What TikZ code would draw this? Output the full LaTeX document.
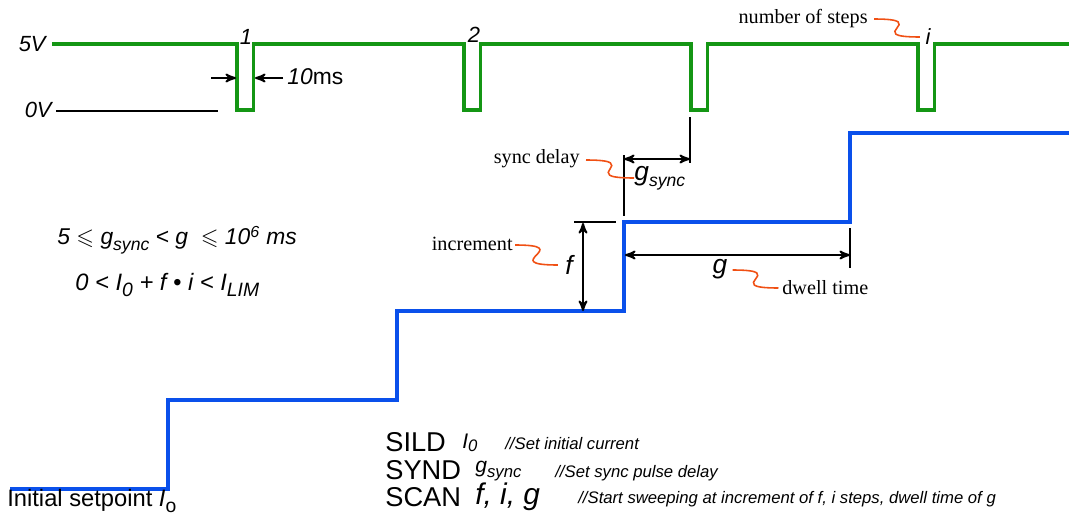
\documentclass[tikz,border=0pt]{standalone}
\usepackage{amssymb}
\usepackage{fontspec}
\setmainfont{Liberation Sans}
\newfontfamily\notefont{Liberation Serif}
\usetikzlibrary{arrows}

\definecolor{syncgreen}{RGB}{20,150,20}
\definecolor{stepblue}{RGB}{10,80,235}
\definecolor{noteorange}{RGB}{240,80,20}

\newcommand{\fs}[1]{\fontsize{#1}{#1}\selectfont}
\newcommand{\lowsub}[2][9]{\raisebox{-0.45ex}{\fs{#1}#2}}

\tikzset{
  pulse/.style={syncgreen, line width=1.9pt},
  stair/.style={stepblue, line width=1.9pt},
  dim/.style={black, line width=1.1pt, >=stealth'},
  squig/.style={noteorange, line width=0.9pt},
  note/.style={font=\notefont\fs{11.5}, inner sep=0pt},
  lbl/.style={font=\itshape\fs{12.5}, inner sep=0pt},
  cmd/.style={font=\fs{15.5}, inner sep=0pt, anchor=west},
  remark/.style={font=\itshape\fs{9.5}, inner sep=0pt, anchor=west},
}

\begin{document}
\begin{tikzpicture}[x=0.02cm,y=-0.02cm]
\useasboundingbox (0,0) rectangle (1069,514);

% sync output and current staircase
\draw[pulse] (52,44) \foreach \x in {237,464,691,918}{ -- (\x,44) -- (\x,110) -- (\x+16.5,110) -- (\x+16.5,44)} -- (1069,44);
\draw[stair] (10,489) -- (168,489) -- (168,400) -- (397,400) -- (397,311) -- (624,311)
  -- (624,222) -- (850,222) -- (850,133) -- (1069,133);

\node[lbl, anchor=east] (five) at (46,44) {5V};
\node[lbl, anchor=east] (zero) at (52,110) {0V};
\draw[line width=1.1pt] (zero.east) ++(4,1) coordinate (zl) -- ++(162,0) coordinate (zr);

\node[lbl] (n1) at (246,37) {1};
\node[lbl] (n2) at (474,35) {2};
\node[lbl] (ni) at (928,37) {i};

% pulse width
\node[lbl, anchor=west, font=\fs{13}] (width) at (287,77) {\textit{10}ms};
\coordinate (wa) at (211,78);
\coordinate (wb) at (236,78);
\coordinate (wc) at (255,78);
\draw[dim,->] (wa) -- (wb);
\draw[dim,->] (width.west) ++(-4,1) -- (wc);

% sync delay
\coordinate (sa) at (624,155);
\coordinate (sb) at (624,216);
\coordinate (sc) at (690,117);
\coordinate (sd) at (690,163);
\draw[dim] (sa) -- (sb);
\draw[dim] (sc) -- (sd);
\draw[dim,<->] (sa |- 0,159) -- (sc |- 0,159);
\node[lbl, anchor=west] (gsync) at (634,178) {\fs{15}g\lowsub[10]{sync}};
\node[note, anchor=east] (syncdelay) at (580,159) {sync delay};

% increment
\coordinate (fa) at (574,222);
\coordinate (fb) at (616,222);
\coordinate (fc) at (583,223);
\coordinate (fd) at (583,311);
\draw[dim] (fa) -- (fb);
\draw[dim,<->] (fc) -- (fd);
\node[lbl, font=\itshape\fs{15}] (f) at (569,265) {f};
\node[note, anchor=east] (increment) at (513,244) {increment};

% dwell time
\coordinate (ga) at (850,228);
\coordinate (gb) at (850,268);
\draw[dim] (ga) -- (gb);
\draw[dim,<->] (625,255) -- (ga |- 0,255);
\node[lbl, font=\itshape\fs{15}] (g) at (720,269) {g};
\node[note, anchor=west] (dwell) at (782,288) {dwell time};

\node[note, anchor=east] (steps) at (868,19) {number of steps};

% orange callouts
\draw[squig] (syncdelay.east) ++(6,1) .. controls +(60,0) and +(-60,0) .. (gsync.west);
\draw[squig] (increment.east) ++(2,1) .. controls +(62,0) and +(-62,0) .. ([xshift=-4pt]f.west);
\draw[squig] (g.east) ++(5,1) .. controls +(60,0) and +(-60,0) .. ([xshift=-2pt]dwell.west);
\draw[squig] (steps.east) ++(6,0) .. controls +(60,0) and +(-60,0) .. ([xshift=-3pt]ni.west);

% limits
\node[lbl, anchor=west, font=\itshape\fs{13}] (cond1) at (57,240)
  {5 $\leqslant$ g\lowsub[10]{sync} < g\ \ $\leqslant$ 10\textsuperscript{6} ms};
\node[lbl, anchor=west, font=\itshape\fs{13.5}] (cond2) at (75,285)
  {0 < I\lowsub[11]{0} + f \textbullet\ i < I\lowsub[11]{LIM}};

% commands
\node[cmd] (sild) at (385,442) {SILD};
\node[cmd, font=\itshape\fs{12}] (sildarg) at (462,443) {I\raisebox{-0.3ex}{\fs{9.5}0}};
\node[remark] (sildnote) at (505,444) {//Set initial current};
\node[cmd] (synd) at (385,470) {SYND};
\node[cmd, font=\itshape\fs{12}] (syndarg) at (475,471) {g\lowsub[9.5]{sync}};
\node[remark] (syndnote) at (555,473) {//Set sync pulse delay};
\node[cmd] (scan) at (385,497) {SCAN};
\node[cmd, font=\itshape\fs{17}] (scanarg) at (475,497) {f, i, g};
\node[remark] (scannote) at (578,499) {//Start sweeping at increment of f, i steps, dwell time of g};

\node[anchor=west, inner sep=0pt, font=\fs{13.5}] (init) at (7,501) {Initial setpoint \textit{I}\lowsub[11]{o}};
\end{tikzpicture}
\end{document}
